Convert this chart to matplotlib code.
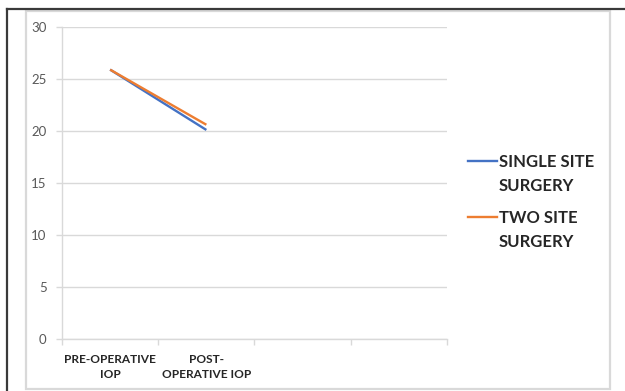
import matplotlib
matplotlib.use("Agg")
import matplotlib.pyplot as plt
from matplotlib.lines import Line2D
from matplotlib.patches import Rectangle

# Mean intraocular pressure (mmHg) before and after surgery
categories = ["PRE-OPERATIVE\nIOP", "POST-\nOPERATIVE IOP", "", ""]
single_site = [25.9, 20.1]
two_site = [25.9, 20.6]
series_names = ["SINGLE SITE\nSURGERY", "TWO SITE\nSURGERY"]
y_ticks = [0, 5, 10, 15, 20, 25, 30]

BLUE = "#4472C4"
ORANGE = "#ED7D31"
GRID = "#D9D9D9"
TEXT = "#595959"
DARK = "#262626"

plt.rcParams["font.family"] = ["Lato", "DejaVu Sans"]

fig = plt.figure(figsize=(6.25, 3.91), dpi=100)
W, H = 625, 391


def fx(px):
    return px / W


def fy(py):
    return 1 - py / H


# frame around the figure
fig.add_artist(Line2D([fx(7), 1], [fy(8.5), fy(8.5)], color="#3a3a3a", lw=1.6,
                      transform=fig.transFigure))
fig.add_artist(Line2D([fx(7), fx(7)], [0, fy(8.5)], color="#3a3a3a", lw=1.6,
                      transform=fig.transFigure))
fig.add_artist(Rectangle((fx(26), fy(389)), fx(610 - 26), (389 - 11) / H,
                         fill=False, edgecolor=GRID, lw=1.6, transform=fig.transFigure))

ax = fig.add_axes([fx(62), fy(339), fx(447 - 62), (339 - 27) / H])

n = len(categories)
centers = [i + 0.5 for i in range(n)]
ax.plot(centers[:len(single_site)], single_site, color=BLUE, lw=1.7, solid_capstyle="butt")
ax.plot(centers[:len(two_site)], two_site, color=ORANGE, lw=1.7, solid_capstyle="butt")

ax.set_xlim(0, n)
ax.set_ylim(y_ticks[0], y_ticks[-1])
ax.set_yticks(y_ticks)
ax.set_yticklabels([str(v) for v in y_ticks], fontsize=9.5, color=TEXT)
ax.yaxis.grid(True, color=GRID, lw=1.0)
ax.set_axisbelow(True)

ax.set_xticks(range(n + 1))
ax.set_xticklabels([])
ax.set_xticks(centers, minor=True)
ax.set_xticklabels(categories, minor=True, fontsize=8.6, fontweight="bold",
                   color=DARK, linespacing=1.45)
ax.tick_params(axis="x", which="minor", length=0, pad=11)
ax.tick_params(axis="x", which="major", length=4, color=GRID, width=1)
ax.tick_params(axis="y", length=4, color=GRID, width=1, pad=7)

for side in ("top", "right"):
    ax.spines[side].set_visible(False)
for side in ("left", "bottom"):
    ax.spines[side].set_color(GRID)
    ax.spines[side].set_linewidth(1.0)

# legend: handle aligned with the first text line of each entry
colors = [BLUE, ORANGE]
entry_y = [161, 217]
for name, color, y0 in zip(series_names, colors, entry_y):
    fig.add_artist(Line2D([fx(468), fx(497)], [fy(y0), fy(y0)], color=color, lw=1.7,
                          transform=fig.transFigure))
    for k, line in enumerate(name.split("\n")):
        fig.text(fx(499), fy(y0 + 6 + 24 * k), line, fontsize=12, fontweight="bold",
                 color=DARK, ha="left", va="baseline")

fig.savefig("out.png", dpi=100, facecolor="white")
